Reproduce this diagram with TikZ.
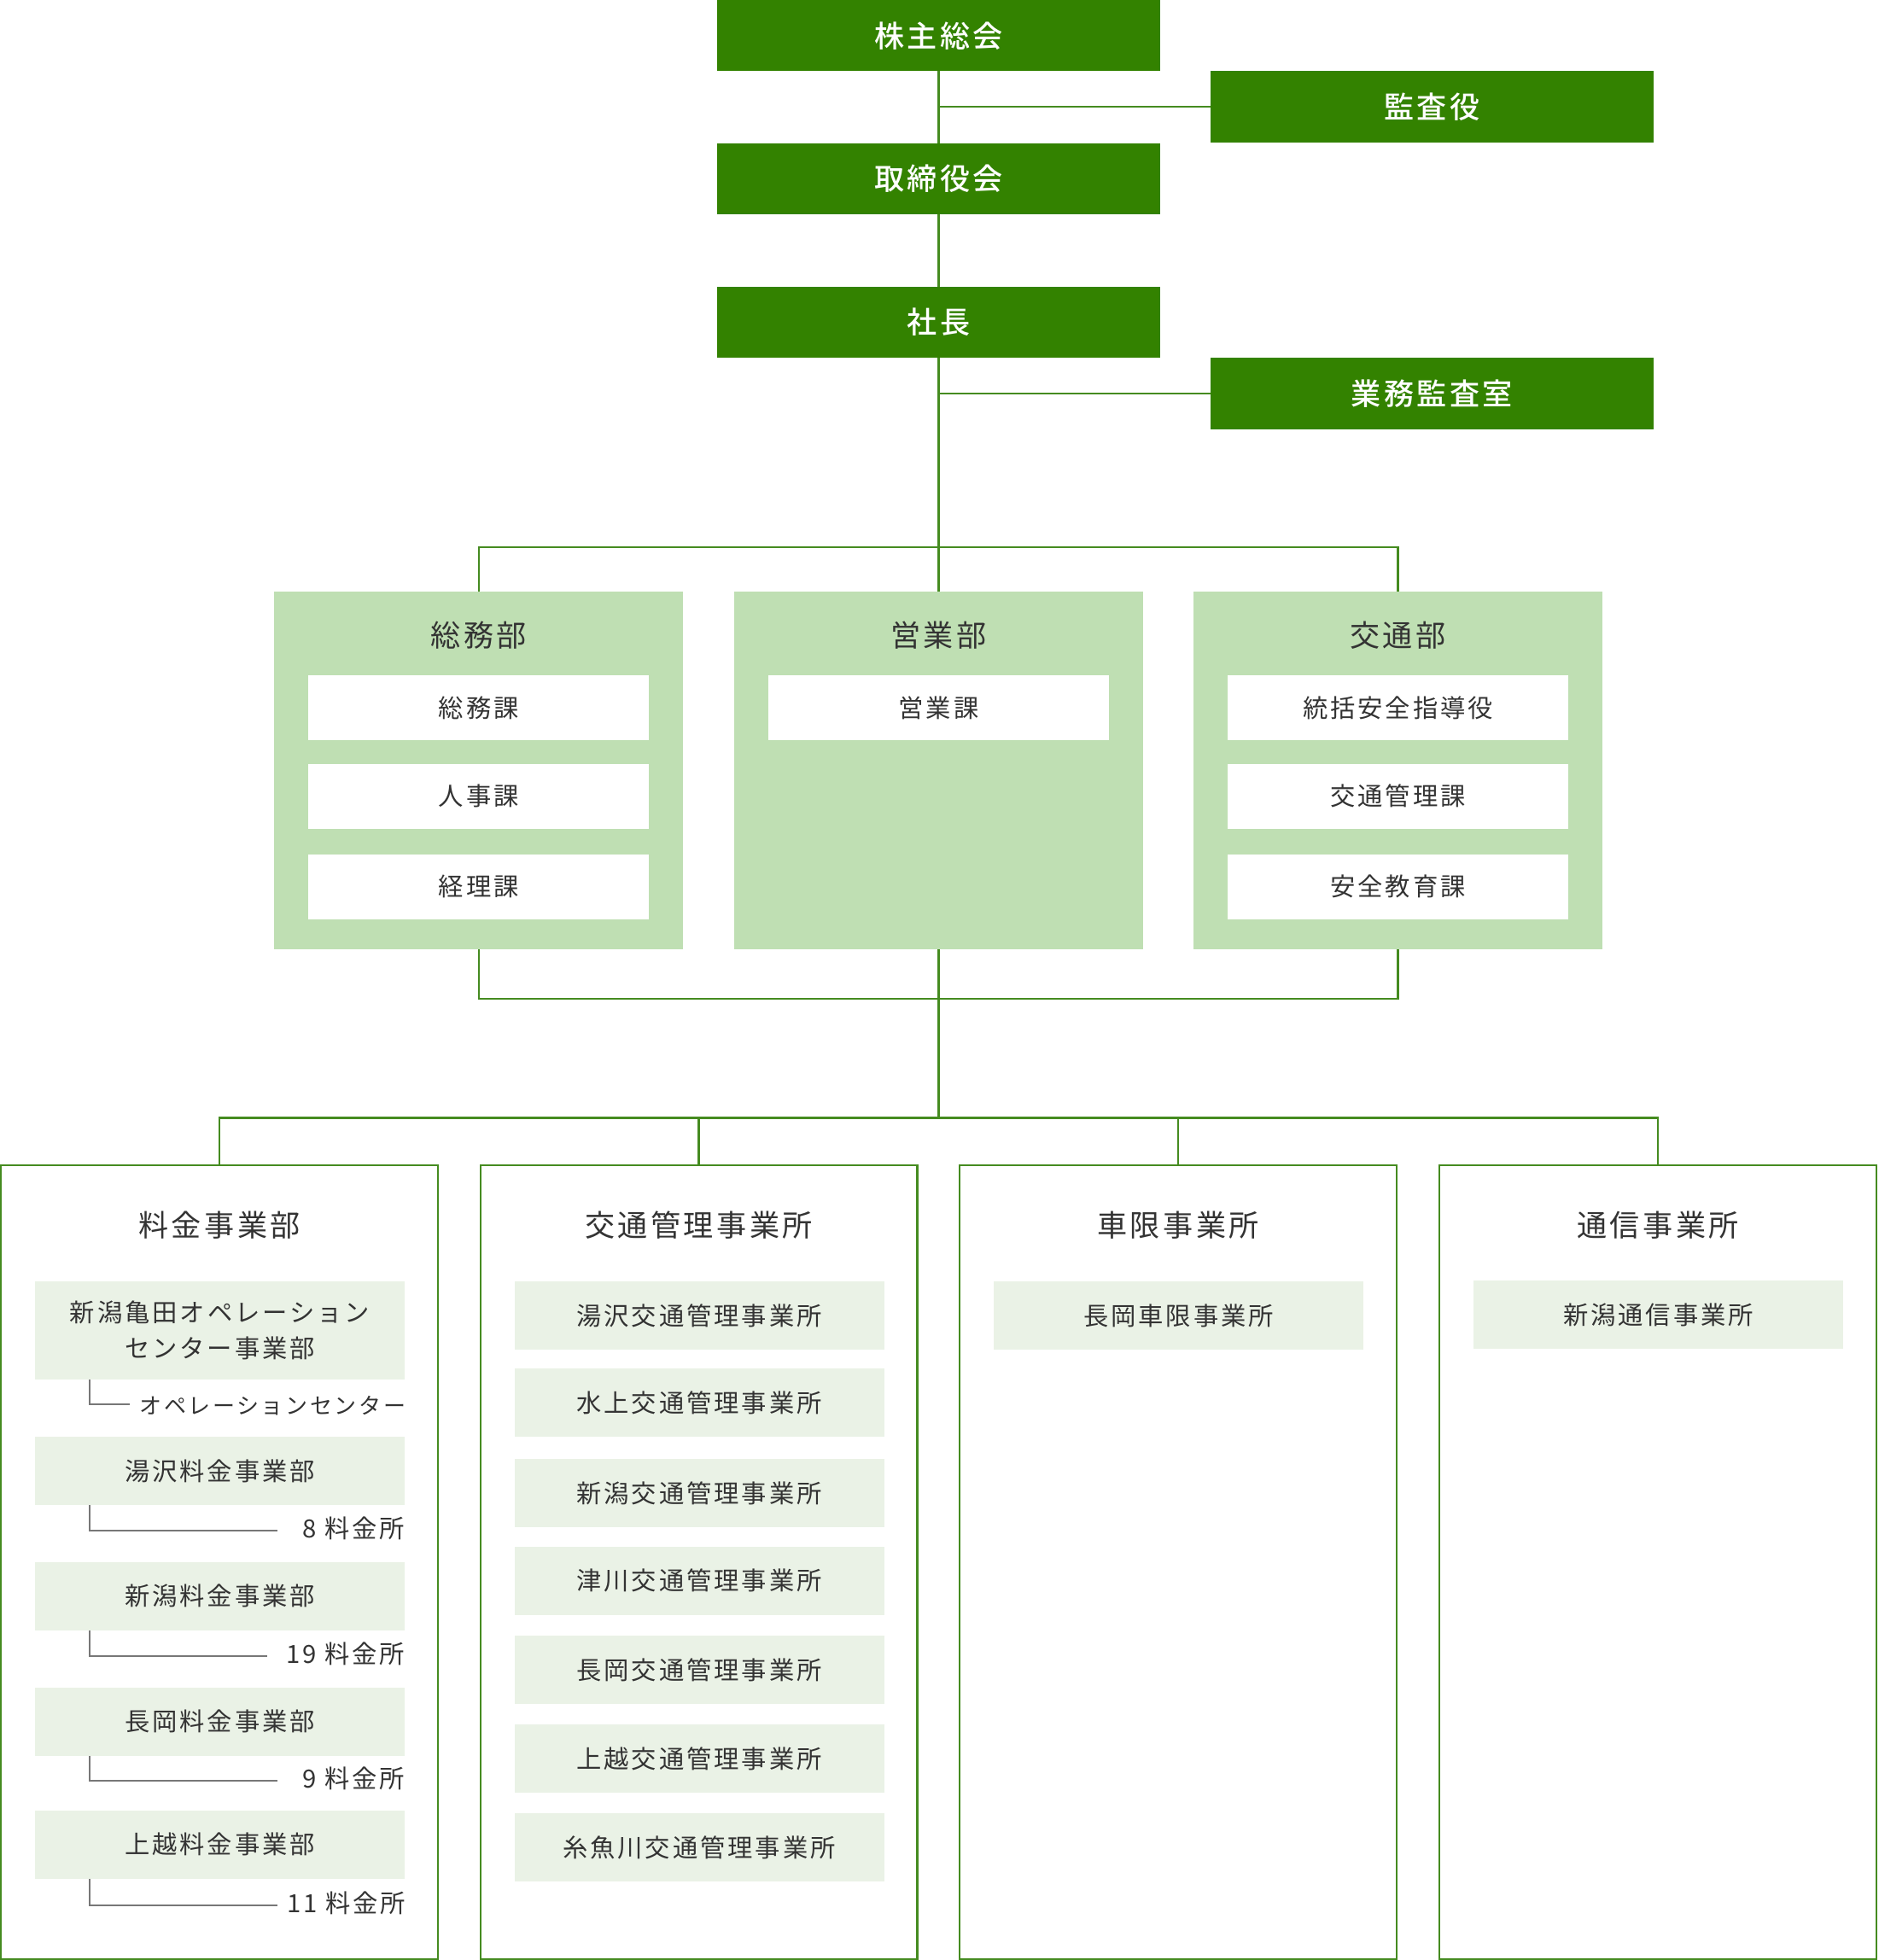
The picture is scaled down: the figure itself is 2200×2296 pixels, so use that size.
\documentclass[tikz,border=0pt]{standalone}
\usepackage{fontspec}
\setmainfont{Noto Sans CJK JP}[LetterSpace=10]
\newfontfamily\jpmed{Noto Sans CJK JP Medium}[LetterSpace=10]
\definecolor{dkgreen}{HTML}{338200}
\definecolor{lgreen}{HTML}{BFDFB3}
\definecolor{pale}{HTML}{EAF2E6}
\definecolor{lineg}{HTML}{458B20}
\definecolor{subg}{HTML}{777777}
\definecolor{txt}{HTML}{333333}
\begin{document}
\begin{tikzpicture}[x=1pt,y=-1pt,
  every node/.style={inner sep=0pt,outer sep=0pt},
  gbox/.style={fill=dkgreen,text=white,minimum width=519,minimum height=83.5,font=\jpmed\fontsize{35.1}{42}\selectfont},
  dept/.style={fill=lgreen,minimum width=479,minimum height=419},
  sec/.style={fill=white,minimum width=399,minimum height=76,text=txt,font=\fontsize{29.3}{35}\selectfont},
  ttl/.style={text=txt,font=\fontsize{35.1}{42}\selectfont},
  obox/.style={draw=lineg,line width=2.2,fill=white,minimum width=511.8,minimum height=929.8},
  item/.style={fill=pale,minimum width=433,minimum height=80,text=txt,align=center,font=\fontsize{29.3}{41.6}\selectfont},
  conn/.style={draw=lineg,line width=2.2},
  subline/.style={draw=subg,line width=1.6},
  lbl/.style={text=txt,anchor=east,font=\fontsize{29.3}{35}\selectfont},
  lbls/.style={lbl,font=\fontsize{26}{32}\selectfont}]
\useasboundingbox (0,0) rectangle (2200,2296);
% top green boxes
\node[gbox] (kabu) at (1099.5,41.75) {株主総会};
\node[gbox] (kansa) at (1677.25,125.25) {監査役};
\node[gbox] (tori) at (1099.5,209.25) {取締役会};
\node[gbox] (shacho) at (1099.5,377.25) {社長};
\node[gbox] (gyomu) at (1677.25,460.75) {業務監査室};
% departments
\node[dept] (somu) at (560.75,902.5) {};
\node[dept] (eigyo) at (1099.5,902.5) {};
\node[dept] (kotsu) at (1637.5,902.5) {};
\node[ttl] (somuT) at (560.75,744) {総務部};
\node[ttl] (eigyoT) at (1099.5,744) {営業部};
\node[ttl] (kotsuT) at (1637.5,744) {交通部};
\node[sec] (s1) at (560.75,829) {総務課};
\node[sec] (s2) at (560.75,932.75) {人事課};
\node[sec] (s3) at (560.75,1038.75) {経理課};
\node[sec] (e1) at (1099.5,829) {営業課};
\node[sec] (t1) at (1637.5,829) {統括安全指導役};
\node[sec] (t2) at (1637.5,932.75) {交通管理課};
\node[sec] (t3) at (1637.5,1038.75) {安全教育課};
% bottom boxes
\node[obox] (ryokin) at (257,1830) {};
\node[obox] (kanri) at (818.5,1830) {};
\node[obox] (shagen) at (1380,1830) {};
\node[obox] (tsushin) at (1942,1830) {};
\node[ttl] (ryokinT) at (257,1435) {料金事業部};
\node[ttl] (kanriT) at (818.5,1435) {交通管理事業所};
\node[ttl] (shagenT) at (1380,1435) {車限事業所};
\node[ttl] (tsushinT) at (1942,1435) {通信事業所};
% 料金事業部 items
\node[item,minimum height=115] (r1) at (257.5,1558.5) {新潟亀田オペレーション\\センター事業部};
\node[item] (r2) at (257.5,1723) {湯沢料金事業部};
\node[item] (r3) at (257.5,1869.5) {新潟料金事業部};
\node[item] (r4) at (257.5,2016.5) {長岡料金事業部};
\node[item] (r5) at (257.5,2160.5) {上越料金事業部};
\coordinate (c1) at (105,1645);
\coordinate (x1) at (152,1645);
\coordinate (c2) at (105,1793);
\coordinate (x2) at (325,1793);
\coordinate (c3) at (105,1940);
\coordinate (x3) at (313,1940);
\coordinate (c4) at (105,2086);
\coordinate (x4) at (325,2086);
\coordinate (c5) at (105,2232);
\coordinate (x5) at (325,2232);
\draw[subline] (r1.south -| c1) |- (x1);
\draw[subline] (r2.south -| c2) |- (x2);
\draw[subline] (r3.south -| c3) |- (x3);
\draw[subline] (r4.south -| c4) |- (x4);
\draw[subline] (r5.south -| c5) |- (x5);
\node[lbls] (l1) at (475,1647) {オペレーションセンター};
\node[lbl] (l2) at (474,1790) {8 料金所};
\node[lbl] (l3) at (474,1937) {19 料金所};
\node[lbl] (l4) at (474,2083) {9 料金所};
\node[lbl] (l5) at (475,2229) {11 料金所};
% 交通管理事業所 items
\node[item] (k1) at (819,1541) {湯沢交通管理事業所};
\node[item] (k2) at (819,1643) {水上交通管理事業所};
\node[item] (k3) at (819,1749) {新潟交通管理事業所};
\node[item] (k4) at (819,1851.75) {津川交通管理事業所};
\node[item] (k5) at (819,1956) {長岡交通管理事業所};
\node[item] (k6) at (819,2060.35) {上越交通管理事業所};
\node[item] (k7) at (819,2164.3) {糸魚川交通管理事業所};
\node[item] (g1) at (1380.5,1541) {長岡車限事業所};
\node[item] (n1) at (1942.5,1540) {新潟通信事業所};
% connectors
\coordinate (busA) at (1099.5,641);
\coordinate (busB) at (1099.5,1170);
\coordinate (busC) at (1099.5,1309.5);
\draw[conn] (kabu.south) -- (tori.north);
\draw[conn] (tori.south) -- (shacho.north);
\draw[conn] (kansa.west) -- (kansa.west -| kabu.south);
\draw[conn] (gyomu.west) -- (gyomu.west -| shacho.south);
\draw[conn] (shacho.south) -- (eigyo.north);
\draw[conn] (somu.north) |- (busA) -| (kotsu.north);
\draw[conn] (somu.south) |- (busB) -| (kotsu.south);
\draw[conn] (eigyo.south) -- (busC);
\draw[conn] (ryokin.north) |- (busC) -| (tsushin.north);
\draw[conn] (kanri.north) -- (kanri.north |- busC);
\draw[conn] (shagen.north) -- (shagen.north |- busC);
\end{tikzpicture}
\end{document}
